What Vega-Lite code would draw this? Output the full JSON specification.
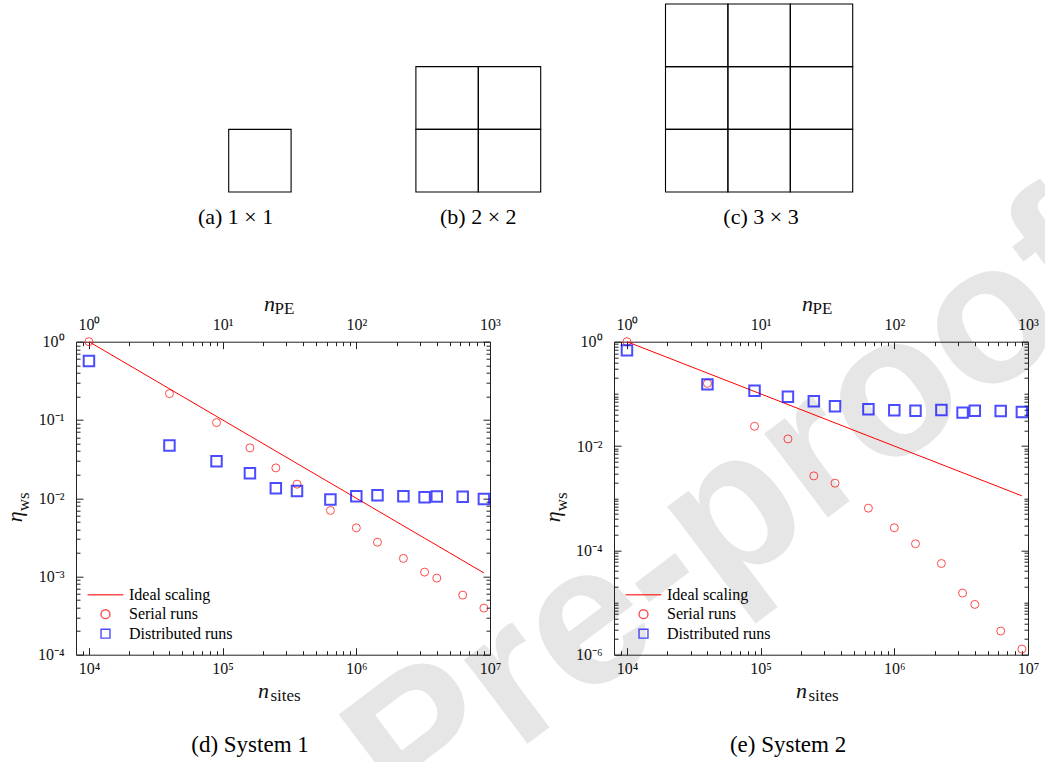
{
  "$schema": "https://vega.github.io/schema/vega-lite/v6.json",
  "padding": {"left": 3, "top": 3, "right": 0, "bottom": 0},
  "config": {"view": {"stroke": null}, "font": "Liberation Serif", "axis": {"grid": false}},
  "bounds": "flush",
  "spacing": 149.7,
  "resolve": {"scale": {"stroke": "independent", "shape": "independent"}},
  "datasets": {
    "cells": [
      {"x": 0, "x2": 1, "y": 0, "y2": 1},
      {"x": 3, "x2": 4, "y": 0, "y2": 1}, {"x": 4, "x2": 5, "y": 0, "y2": 1},
      {"x": 3, "x2": 4, "y": 1, "y2": 2}, {"x": 4, "x2": 5, "y": 1, "y2": 2},
      {"x": 7, "x2": 8, "y": 0, "y2": 1}, {"x": 8, "x2": 9, "y": 0, "y2": 1}, {"x": 9, "x2": 10, "y": 0, "y2": 1},
      {"x": 7, "x2": 8, "y": 1, "y2": 2}, {"x": 8, "x2": 9, "y": 1, "y2": 2}, {"x": 9, "x2": 10, "y": 1, "y2": 2},
      {"x": 7, "x2": 8, "y": 2, "y2": 3}, {"x": 8, "x2": 9, "y": 2, "y2": 3}, {"x": 9, "x2": 10, "y": 2, "y2": 3}
    ],
    "captions": [
      {"t": "(a) 1 × 1", "x": 0.11, "y": -0.4},
      {"t": "(b) 2 × 2", "x": 4.0, "y": -0.4},
      {"t": "(c) 3 × 3", "x": 8.53, "y": -0.4}
    ],
    "mark": [{"t": "Pre-proof", "x": 8.066, "y": -5.145}],
    "s1": [
      {"n": 10000, "s": "Ideal scaling", "eta": 1},
      {"n": 9000000, "s": "Ideal scaling", "eta": 0.00111},
      {"n": 10000, "s": "Serial runs", "eta": 1.0},
      {"n": 40000, "s": "Serial runs", "eta": 0.217},
      {"n": 90000, "s": "Serial runs", "eta": 0.0925},
      {"n": 160000, "s": "Serial runs", "eta": 0.044},
      {"n": 250000, "s": "Serial runs", "eta": 0.0244},
      {"n": 360000, "s": "Serial runs", "eta": 0.0151},
      {"n": 640000, "s": "Serial runs", "eta": 0.00697},
      {"n": 1000000, "s": "Serial runs", "eta": 0.00418},
      {"n": 1440000, "s": "Serial runs", "eta": 0.00274},
      {"n": 2250000, "s": "Serial runs", "eta": 0.0017},
      {"n": 3240000, "s": "Serial runs", "eta": 0.001135},
      {"n": 4000000, "s": "Serial runs", "eta": 0.000953},
      {"n": 6250000, "s": "Serial runs", "eta": 0.000578},
      {"n": 9000000, "s": "Serial runs", "eta": 0.000394},
      {"n": 10000, "s": "Distributed runs", "eta": 0.567},
      {"n": 40000, "s": "Distributed runs", "eta": 0.047},
      {"n": 90000, "s": "Distributed runs", "eta": 0.0297},
      {"n": 160000, "s": "Distributed runs", "eta": 0.0208},
      {"n": 250000, "s": "Distributed runs", "eta": 0.0134},
      {"n": 360000, "s": "Distributed runs", "eta": 0.0124},
      {"n": 640000, "s": "Distributed runs", "eta": 0.00962},
      {"n": 1000000, "s": "Distributed runs", "eta": 0.0106},
      {"n": 1440000, "s": "Distributed runs", "eta": 0.0109},
      {"n": 2250000, "s": "Distributed runs", "eta": 0.0106},
      {"n": 3240000, "s": "Distributed runs", "eta": 0.0103},
      {"n": 4000000, "s": "Distributed runs", "eta": 0.0105},
      {"n": 6250000, "s": "Distributed runs", "eta": 0.0104},
      {"n": 9000000, "s": "Distributed runs", "eta": 0.0098}
    ],
    "s2": [
      {"n": 10000, "s": "Ideal scaling", "eta": 1},
      {"n": 9000000, "s": "Ideal scaling", "eta": 0.00111},
      {"n": 10000, "s": "Serial runs", "eta": 1.0},
      {"n": 40000, "s": "Serial runs", "eta": 0.159},
      {"n": 90000, "s": "Serial runs", "eta": 0.0239},
      {"n": 160000, "s": "Serial runs", "eta": 0.01367},
      {"n": 250000, "s": "Serial runs", "eta": 0.00268},
      {"n": 360000, "s": "Serial runs", "eta": 0.00194},
      {"n": 640000, "s": "Serial runs", "eta": 0.000644},
      {"n": 1000000, "s": "Serial runs", "eta": 0.000271},
      {"n": 1440000, "s": "Serial runs", "eta": 0.000134},
      {"n": 2250000, "s": "Serial runs", "eta": 0.000056},
      {"n": 3240000, "s": "Serial runs", "eta": 0.0000152},
      {"n": 4000000, "s": "Serial runs", "eta": 0.0000092},
      {"n": 6250000, "s": "Serial runs", "eta": 0.00000284},
      {"n": 9000000, "s": "Serial runs", "eta": 0.00000128},
      {"n": 10000, "s": "Distributed runs", "eta": 0.682},
      {"n": 40000, "s": "Distributed runs", "eta": 0.152},
      {"n": 90000, "s": "Distributed runs", "eta": 0.115},
      {"n": 160000, "s": "Distributed runs", "eta": 0.0885},
      {"n": 250000, "s": "Distributed runs", "eta": 0.072},
      {"n": 360000, "s": "Distributed runs", "eta": 0.0578},
      {"n": 640000, "s": "Distributed runs", "eta": 0.0506},
      {"n": 1000000, "s": "Distributed runs", "eta": 0.0484},
      {"n": 1440000, "s": "Distributed runs", "eta": 0.0477},
      {"n": 2250000, "s": "Distributed runs", "eta": 0.0492},
      {"n": 3240000, "s": "Distributed runs", "eta": 0.0437},
      {"n": 4000000, "s": "Distributed runs", "eta": 0.0477},
      {"n": 6250000, "s": "Distributed runs", "eta": 0.047},
      {"n": 9000000, "s": "Distributed runs", "eta": 0.045}
    ]
  },
  "vconcat": [
    {
      "width": 969.7,
      "height": 188,
      "layer": [
        {
          "data": {"name": "mark"},
          "mark": {"type": "text", "font": "Liberation Sans", "fontSize": 199, "fontWeight": "bold", "angle": 323, "align": "center", "baseline": "middle", "color": "#e6e6e6"},
          "encoding": {
            "x": {"field": "x", "type": "quantitative", "scale": {"domain": [-2.4471, 13.093], "nice": false, "zero": false}, "axis": null},
            "y": {"field": "y", "type": "quantitative", "scale": {"domain": [0, 3], "nice": false, "zero": false}, "axis": null},
            "text": {"field": "t"}
          }
        },
        {
          "data": {"name": "cells"},
          "mark": {"type": "rect", "fill": "transparent", "stroke": "#000", "strokeWidth": 1.1},
          "encoding": {
            "x": {"field": "x", "type": "quantitative", "axis": null},
            "x2": {"field": "x2"},
            "y": {"field": "y", "type": "quantitative", "axis": null},
            "y2": {"field": "y2"}
          }
        },
        {
          "data": {"name": "captions"},
          "mark": {"type": "text", "font": "Liberation Serif", "fontSize": 22, "align": "center", "baseline": "middle", "color": "#000"},
          "encoding": {
            "x": {"field": "x", "type": "quantitative", "axis": null},
            "y": {"field": "y", "type": "quantitative", "axis": null},
            "text": {"field": "t"}
          }
        }
      ]
    },
    {
      "bounds": "flush",
      "spacing": 124,
      "resolve": {"scale": {"stroke": "independent", "shape": "independent"}},
      "hconcat": [
        {
          "width": 414, "height": 313,
          "title": {"text": "(d) System 1", "orient": "bottom", "anchor": "middle", "font": "Liberation Serif", "fontSize": 23, "fontWeight": "normal", "color": "#000", "offset": 30, "dx": -33},
          "data": {"name": "s1"},
          "resolve": {"axis": {"x": "independent", "y": "independent"}},
          "layer": [
            {
              "transform": [{"filter": "datum.s === 'Ideal scaling'"}],
              "mark": {"type": "line", "strokeWidth": 1},
              "encoding": {
                "x": {"field": "n", "type": "quantitative", "scale": {"type": "log", "domain": [8000, 10000000], "nice": false},
                  "axis": {"orient": "bottom", "values": [10000, 100000, 1000000, 10000000], "labelExpr": "['10⁴','10⁵','10⁶','10⁷'][round(log(datum.value)/LN10)-4]", "ticks": false, "domain": true, "domainColor": "#222", "domainWidth": 1, "labelFont": "Liberation Serif", "labelFontSize": 16, "labelColor": "#111", "labelPadding": 6, "labelBaseline": "top", "labelOverlap": false, "labelFlush": false, "title": "n", "titleFont": "Liberation Serif", "titleFontSize": 22, "titleFontStyle": "italic", "titleFontWeight": "normal", "titleColor": "#111", "titleX": 181.5, "titleY": 43, "titleAlign": "left", "titleBaseline": "alphabetic", "titleAngle": 0}},
                "y": {"field": "eta", "type": "quantitative", "scale": {"type": "log", "domain": [0.0001, 1], "nice": false},
                  "axis": {"orient": "left", "values": [0.0001, 0.001, 0.01, 0.1, 1], "labelExpr": "['10⁻⁴','10⁻³','10⁻²','10⁻¹','10⁰'][round(log(datum.value)/LN10)+4]", "ticks": false, "domain": true, "domainColor": "#222", "domainWidth": 1, "labelFont": "Liberation Serif", "labelFontSize": 16, "labelColor": "#111", "labelPadding": 12, "labelBaseline": "middle", "labelAlign": "right", "labelOverlap": false, "labelFlush": false, "title": "η", "titleFont": "Liberation Serif", "titleFontSize": 22, "titleFontStyle": "italic", "titleFontWeight": "normal", "titleColor": "#111", "titleX": -55, "titleY": 180, "titleAlign": "left", "titleBaseline": "alphabetic", "titleAngle": 270}},
                "stroke": {"field": "s", "type": "nominal", "scale": {"domain": ["Ideal scaling", "Serial runs", "Distributed runs"], "range": ["#ff0000", "#ff0000", "#0000ff"]},
                  "legend": {"title": null, "orient": "none", "legendX": 21.5, "legendY": 245, "labelFont": "Liberation Serif", "labelFontSize": 16, "labelColor": "#000", "symbolSize": 80, "symbolStrokeWidth": 1.4, "labelOffset": 15.5, "rowPadding": 3.5, "padding": 0, "symbolFillColor": "transparent"}}
              }
            },
            {
              "transform": [{"filter": "datum.s === 'Serial runs'"}],
              "mark": {"type": "point", "filled": false, "size": 64, "strokeWidth": 1},
              "encoding": {
                "x": {"field": "n", "type": "quantitative", "scale": {"type": "log", "domain": [8000, 10000000], "nice": false},
                  "axis": {"orient": "bottom", "values": [10000, 100000, 1000000, 10000000], "labels": false, "domain": false, "ticks": true, "tickSize": -7, "tickColor": "#222", "tickWidth": 1, "title": null}},
                "y": {"field": "eta", "type": "quantitative", "scale": {"type": "log", "domain": [0.0001, 1], "nice": false},
                  "axis": {"orient": "left", "values": [0.0001, 0.001, 0.01, 0.1, 1], "labels": false, "domain": false, "ticks": true, "tickSize": -7, "tickColor": "#222", "tickWidth": 1, "title": null}},
                "stroke": {"field": "s", "type": "nominal", "scale": {"domain": ["Ideal scaling", "Serial runs", "Distributed runs"], "range": ["#ff0000", "#ff0000", "#0000ff"]},
                  "legend": {"title": null, "orient": "none", "legendX": 21.5, "legendY": 245, "labelFont": "Liberation Serif", "labelFontSize": 16, "labelColor": "#000", "symbolSize": 80, "symbolStrokeWidth": 1.4, "labelOffset": 15.5, "rowPadding": 3.5, "padding": 0, "symbolFillColor": "transparent"}},
                "shape": {"field": "s", "type": "nominal", "scale": {"domain": ["Ideal scaling", "Serial runs", "Distributed runs"], "range": ["M-4,0L4,0", "circle", "square"]},
                  "legend": {"title": null, "orient": "none", "legendX": 21.5, "legendY": 245, "labelFont": "Liberation Serif", "labelFontSize": 16, "labelColor": "#000", "symbolSize": 80, "symbolStrokeWidth": 1.4, "labelOffset": 15.5, "rowPadding": 3.5, "padding": 0, "symbolFillColor": "transparent"}}
              }
            },
            {
              "transform": [{"filter": "datum.s === 'Distributed runs'"}],
              "mark": {"type": "point", "filled": false, "size": 110, "strokeWidth": 2},
              "encoding": {
                "x": {"field": "n", "type": "quantitative", "scale": {"type": "log", "domain": [8000, 10000000], "nice": false},
                  "axis": {"orient": "bottom", "values": [9000, 20000, 30000, 40000, 50000, 60000, 70000, 80000, 90000, 200000, 300000, 400000, 500000, 600000, 700000, 800000, 900000, 2000000, 3000000, 4000000, 5000000, 6000000, 7000000, 8000000, 9000000], "labels": false, "domain": false, "ticks": true, "tickSize": -4, "tickColor": "#222", "tickWidth": 1, "title": null}},
                "y": {"field": "eta", "type": "quantitative", "scale": {"type": "log", "domain": [0.0001, 1], "nice": false},
                  "axis": {"orient": "left", "values": [0.0002, 0.0003, 0.0004, 0.0005, 0.0006, 0.0007, 0.0008, 0.0009, 0.002, 0.003, 0.004, 0.005, 0.006, 0.007, 0.008, 0.009, 0.02, 0.03, 0.04, 0.05, 0.06, 0.07, 0.08, 0.09, 0.2, 0.3, 0.4, 0.5, 0.6, 0.7, 0.8, 0.9], "labels": false, "domain": false, "ticks": true, "tickSize": -4, "tickColor": "#222", "tickWidth": 1, "title": null}},
                "stroke": {"field": "s", "type": "nominal", "scale": {"domain": ["Ideal scaling", "Serial runs", "Distributed runs"], "range": ["#ff0000", "#ff0000", "#0000ff"]}},
                "shape": {"field": "s", "type": "nominal", "scale": {"domain": ["Ideal scaling", "Serial runs", "Distributed runs"], "range": ["M-4,0L4,0", "circle", "square"]}}
              }
            },
            {
              "transform": [{"filter": "datum.s === 'Ideal scaling'"}],
              "mark": {"type": "point", "opacity": 0},
              "encoding": {
                "x": {"field": "n", "type": "quantitative", "scale": {"type": "log", "domain": [8000, 10000000], "nice": false},
                  "axis": {"orient": "bottom", "labels": false, "ticks": false, "domain": false, "title": "sites", "titleFont": "Liberation Serif", "titleFontSize": 17, "titleFontWeight": "normal", "titleColor": "#111", "titleX": 194, "titleY": 46, "titleAlign": "left", "titleBaseline": "alphabetic", "titleAngle": 0}},
                "y": {"field": "eta", "type": "quantitative", "scale": {"type": "log", "domain": [0.0001, 1], "nice": false},
                  "axis": {"orient": "left", "labels": false, "ticks": false, "domain": false, "title": "ws", "titleFont": "Liberation Serif", "titleFontSize": 17, "titleFontWeight": "normal", "titleColor": "#111", "titleX": -48, "titleY": 169, "titleAlign": "left", "titleBaseline": "alphabetic", "titleAngle": 270}}
              }
            },
            {
              "transform": [{"filter": "datum.s === 'Ideal scaling'"}],
              "mark": {"type": "point", "opacity": 0},
              "encoding": {
                "x": {"field": "n", "type": "quantitative", "scale": {"type": "log", "domain": [8000, 10000000], "nice": false},
                  "axis": {"orient": "top", "values": [10000, 100000, 1000000, 10000000], "labelExpr": "['10⁰','10¹','10²','10³'][round(log(datum.value)/LN10)-4]", "ticks": false, "domain": true, "domainColor": "#222", "domainWidth": 1, "labelFont": "Liberation Serif", "labelFontSize": 16, "labelColor": "#111", "labelPadding": 12.7, "labelBaseline": "alphabetic", "labelOverlap": false, "labelFlush": false, "title": "n", "titleFont": "Liberation Serif", "titleFontSize": 22, "titleFontStyle": "italic", "titleFontWeight": "normal", "titleColor": "#111", "titleX": 187.5, "titleY": -31, "titleAlign": "left", "titleBaseline": "alphabetic", "titleAngle": 0}},
                "y": {"field": "eta", "type": "quantitative", "scale": {"type": "log", "domain": [0.0001, 1], "nice": false},
                  "axis": {"orient": "right", "values": [0.0001, 0.001, 0.01, 0.1, 1], "labels": false, "domain": true, "domainColor": "#222", "domainWidth": 1, "ticks": true, "tickSize": -7, "tickColor": "#222", "tickWidth": 1, "title": null}}
              }
            },
            {
              "transform": [{"filter": "datum.s === 'Ideal scaling'"}],
              "mark": {"type": "point", "opacity": 0},
              "encoding": {
                "x": {"field": "n", "type": "quantitative", "scale": {"type": "log", "domain": [8000, 10000000], "nice": false},
                  "axis": {"orient": "top", "values": [10000, 100000, 1000000, 10000000], "labels": false, "domain": false, "ticks": true, "tickSize": -7, "tickColor": "#222", "tickWidth": 1, "title": null}},
                "y": {"field": "eta", "type": "quantitative", "scale": {"type": "log", "domain": [0.0001, 1], "nice": false},
                  "axis": {"orient": "right", "values": [0.0002, 0.0003, 0.0004, 0.0005, 0.0006, 0.0007, 0.0008, 0.0009, 0.002, 0.003, 0.004, 0.005, 0.006, 0.007, 0.008, 0.009, 0.02, 0.03, 0.04, 0.05, 0.06, 0.07, 0.08, 0.09, 0.2, 0.3, 0.4, 0.5, 0.6, 0.7, 0.8, 0.9], "labels": false, "domain": false, "ticks": true, "tickSize": -4, "tickColor": "#222", "tickWidth": 1, "title": null}}
              }
            },
            {
              "transform": [{"filter": "datum.s === 'Ideal scaling'"}],
              "mark": {"type": "point", "opacity": 0},
              "encoding": {
                "x": {"field": "n", "type": "quantitative", "scale": {"type": "log", "domain": [8000, 10000000], "nice": false},
                  "axis": {"orient": "top", "values": [9000, 20000, 30000, 40000, 50000, 60000, 70000, 80000, 90000, 200000, 300000, 400000, 500000, 600000, 700000, 800000, 900000, 2000000, 3000000, 4000000, 5000000, 6000000, 7000000, 8000000, 9000000], "labels": false, "domain": false, "ticks": true, "tickSize": -4, "tickColor": "#222", "tickWidth": 1, "title": null}},
                "y": {"field": "eta", "type": "quantitative", "scale": {"type": "log", "domain": [0.0001, 1], "nice": false}, "axis": null}
              }
            },
            {
              "transform": [{"filter": "datum.s === 'Ideal scaling'"}],
              "mark": {"type": "point", "opacity": 0},
              "encoding": {
                "x": {"field": "n", "type": "quantitative", "scale": {"type": "log", "domain": [8000, 10000000], "nice": false},
                  "axis": {"orient": "top", "labels": false, "ticks": false, "domain": false, "title": "PE", "titleFont": "Liberation Serif", "titleFontSize": 17, "titleFontWeight": "normal", "titleColor": "#111", "titleX": 198, "titleY": -28, "titleAlign": "left", "titleBaseline": "alphabetic", "titleAngle": 0}},
                "y": {"field": "eta", "type": "quantitative", "scale": {"type": "log", "domain": [0.0001, 1], "nice": false}, "axis": null}
              }
            }
          ]
        },
        {
          "width": 414, "height": 313,
          "title": {"text": "(e) System 2", "orient": "bottom", "anchor": "middle", "font": "Liberation Serif", "fontSize": 23, "fontWeight": "normal", "color": "#000", "offset": 30, "dx": -33},
          "data": {"name": "s2"},
          "resolve": {"axis": {"x": "independent", "y": "independent"}},
          "layer": [
            {
              "transform": [{"filter": "datum.s === 'Ideal scaling'"}],
              "mark": {"type": "line", "strokeWidth": 1},
              "encoding": {
                "x": {"field": "n", "type": "quantitative", "scale": {"type": "log", "domain": [8000, 10000000], "nice": false},
                  "axis": {"orient": "bottom", "values": [10000, 100000, 1000000, 10000000], "labelExpr": "['10⁴','10⁵','10⁶','10⁷'][round(log(datum.value)/LN10)-4]", "ticks": false, "domain": true, "domainColor": "#222", "domainWidth": 1, "labelFont": "Liberation Serif", "labelFontSize": 16, "labelColor": "#111", "labelPadding": 6, "labelBaseline": "top", "labelOverlap": false, "labelFlush": false, "title": "n", "titleFont": "Liberation Serif", "titleFontSize": 22, "titleFontStyle": "italic", "titleFontWeight": "normal", "titleColor": "#111", "titleX": 181.5, "titleY": 43, "titleAlign": "left", "titleBaseline": "alphabetic", "titleAngle": 0}},
                "y": {"field": "eta", "type": "quantitative", "scale": {"type": "log", "domain": [0.000001, 1], "nice": false},
                  "axis": {"orient": "left", "values": [0.000001, 0.0001, 0.01, 1], "labelExpr": "['10⁻⁶','10⁻⁵','10⁻⁴','10⁻³','10⁻²','10⁻¹','10⁰'][round(log(datum.value)/LN10)+6]", "ticks": false, "domain": true, "domainColor": "#222", "domainWidth": 1, "labelFont": "Liberation Serif", "labelFontSize": 16, "labelColor": "#111", "labelPadding": 12, "labelBaseline": "middle", "labelAlign": "right", "labelOverlap": false, "labelFlush": false, "title": "η", "titleFont": "Liberation Serif", "titleFontSize": 22, "titleFontStyle": "italic", "titleFontWeight": "normal", "titleColor": "#111", "titleX": -55, "titleY": 180, "titleAlign": "left", "titleBaseline": "alphabetic", "titleAngle": 270}},
                "stroke": {"field": "s", "type": "nominal", "scale": {"domain": ["Ideal scaling", "Serial runs", "Distributed runs"], "range": ["#ff0000", "#ff0000", "#0000ff"]},
                  "legend": {"title": null, "orient": "none", "legendX": 21.5, "legendY": 245, "labelFont": "Liberation Serif", "labelFontSize": 16, "labelColor": "#000", "symbolSize": 80, "symbolStrokeWidth": 1.4, "labelOffset": 15.5, "rowPadding": 3.5, "padding": 0, "symbolFillColor": "transparent"}}
              }
            },
            {
              "transform": [{"filter": "datum.s === 'Serial runs'"}],
              "mark": {"type": "point", "filled": false, "size": 64, "strokeWidth": 1},
              "encoding": {
                "x": {"field": "n", "type": "quantitative", "scale": {"type": "log", "domain": [8000, 10000000], "nice": false},
                  "axis": {"orient": "bottom", "values": [10000, 100000, 1000000, 10000000], "labels": false, "domain": false, "ticks": true, "tickSize": -7, "tickColor": "#222", "tickWidth": 1, "title": null}},
                "y": {"field": "eta", "type": "quantitative", "scale": {"type": "log", "domain": [0.000001, 1], "nice": false},
                  "axis": {"orient": "left", "values": [0.000001, 0.0001, 0.01, 1], "labels": false, "domain": false, "ticks": true, "tickSize": -7, "tickColor": "#222", "tickWidth": 1, "title": null}},
                "stroke": {"field": "s", "type": "nominal", "scale": {"domain": ["Ideal scaling", "Serial runs", "Distributed runs"], "range": ["#ff0000", "#ff0000", "#0000ff"]},
                  "legend": {"title": null, "orient": "none", "legendX": 21.5, "legendY": 245, "labelFont": "Liberation Serif", "labelFontSize": 16, "labelColor": "#000", "symbolSize": 80, "symbolStrokeWidth": 1.4, "labelOffset": 15.5, "rowPadding": 3.5, "padding": 0, "symbolFillColor": "transparent"}},
                "shape": {"field": "s", "type": "nominal", "scale": {"domain": ["Ideal scaling", "Serial runs", "Distributed runs"], "range": ["M-4,0L4,0", "circle", "square"]},
                  "legend": {"title": null, "orient": "none", "legendX": 21.5, "legendY": 245, "labelFont": "Liberation Serif", "labelFontSize": 16, "labelColor": "#000", "symbolSize": 80, "symbolStrokeWidth": 1.4, "labelOffset": 15.5, "rowPadding": 3.5, "padding": 0, "symbolFillColor": "transparent"}}
              }
            },
            {
              "transform": [{"filter": "datum.s === 'Distributed runs'"}],
              "mark": {"type": "point", "filled": false, "size": 110, "strokeWidth": 2},
              "encoding": {
                "x": {"field": "n", "type": "quantitative", "scale": {"type": "log", "domain": [8000, 10000000], "nice": false},
                  "axis": {"orient": "bottom", "values": [9000, 20000, 30000, 40000, 50000, 60000, 70000, 80000, 90000, 200000, 300000, 400000, 500000, 600000, 700000, 800000, 900000, 2000000, 3000000, 4000000, 5000000, 6000000, 7000000, 8000000, 9000000], "labels": false, "domain": false, "ticks": true, "tickSize": -4, "tickColor": "#222", "tickWidth": 1, "title": null}},
                "y": {"field": "eta", "type": "quantitative", "scale": {"type": "log", "domain": [0.000001, 1], "nice": false},
                  "axis": {"orient": "left", "values": [0.000002, 0.000003, 0.000004, 0.000005, 0.000006, 0.000007, 0.000008, 0.000009, 0.00001, 0.00002, 0.00003, 0.00004, 0.00005, 0.00006, 0.00007, 0.00008, 0.00009, 0.0002, 0.0003, 0.0004, 0.0005, 0.0006, 0.0007, 0.0008, 0.0009, 0.001, 0.002, 0.003, 0.004, 0.005, 0.006, 0.007, 0.008, 0.009, 0.02, 0.03, 0.04, 0.05, 0.06, 0.07, 0.08, 0.09, 0.1, 0.2, 0.3, 0.4, 0.5, 0.6, 0.7, 0.8, 0.9], "labels": false, "domain": false, "ticks": true, "tickSize": -4, "tickColor": "#222", "tickWidth": 1, "title": null}},
                "stroke": {"field": "s", "type": "nominal", "scale": {"domain": ["Ideal scaling", "Serial runs", "Distributed runs"], "range": ["#ff0000", "#ff0000", "#0000ff"]}},
                "shape": {"field": "s", "type": "nominal", "scale": {"domain": ["Ideal scaling", "Serial runs", "Distributed runs"], "range": ["M-4,0L4,0", "circle", "square"]}}
              }
            },
            {
              "transform": [{"filter": "datum.s === 'Ideal scaling'"}],
              "mark": {"type": "point", "opacity": 0},
              "encoding": {
                "x": {"field": "n", "type": "quantitative", "scale": {"type": "log", "domain": [8000, 10000000], "nice": false},
                  "axis": {"orient": "bottom", "labels": false, "ticks": false, "domain": false, "title": "sites", "titleFont": "Liberation Serif", "titleFontSize": 17, "titleFontWeight": "normal", "titleColor": "#111", "titleX": 194, "titleY": 46, "titleAlign": "left", "titleBaseline": "alphabetic", "titleAngle": 0}},
                "y": {"field": "eta", "type": "quantitative", "scale": {"type": "log", "domain": [0.000001, 1], "nice": false},
                  "axis": {"orient": "left", "labels": false, "ticks": false, "domain": false, "title": "ws", "titleFont": "Liberation Serif", "titleFontSize": 17, "titleFontWeight": "normal", "titleColor": "#111", "titleX": -48, "titleY": 169, "titleAlign": "left", "titleBaseline": "alphabetic", "titleAngle": 270}}
              }
            },
            {
              "transform": [{"filter": "datum.s === 'Ideal scaling'"}],
              "mark": {"type": "point", "opacity": 0},
              "encoding": {
                "x": {"field": "n", "type": "quantitative", "scale": {"type": "log", "domain": [8000, 10000000], "nice": false},
                  "axis": {"orient": "top", "values": [10000, 100000, 1000000, 10000000], "labelExpr": "['10⁰','10¹','10²','10³'][round(log(datum.value)/LN10)-4]", "ticks": false, "domain": true, "domainColor": "#222", "domainWidth": 1, "labelFont": "Liberation Serif", "labelFontSize": 16, "labelColor": "#111", "labelPadding": 12.7, "labelBaseline": "alphabetic", "labelOverlap": false, "labelFlush": false, "title": "n", "titleFont": "Liberation Serif", "titleFontSize": 22, "titleFontStyle": "italic", "titleFontWeight": "normal", "titleColor": "#111", "titleX": 187.5, "titleY": -31, "titleAlign": "left", "titleBaseline": "alphabetic", "titleAngle": 0}},
                "y": {"field": "eta", "type": "quantitative", "scale": {"type": "log", "domain": [0.000001, 1], "nice": false},
                  "axis": {"orient": "right", "values": [0.000001, 0.0001, 0.01, 1], "labels": false, "domain": true, "domainColor": "#222", "domainWidth": 1, "ticks": true, "tickSize": -7, "tickColor": "#222", "tickWidth": 1, "title": null}}
              }
            },
            {
              "transform": [{"filter": "datum.s === 'Ideal scaling'"}],
              "mark": {"type": "point", "opacity": 0},
              "encoding": {
                "x": {"field": "n", "type": "quantitative", "scale": {"type": "log", "domain": [8000, 10000000], "nice": false},
                  "axis": {"orient": "top", "values": [10000, 100000, 1000000, 10000000], "labels": false, "domain": false, "ticks": true, "tickSize": -7, "tickColor": "#222", "tickWidth": 1, "title": null}},
                "y": {"field": "eta", "type": "quantitative", "scale": {"type": "log", "domain": [0.000001, 1], "nice": false},
                  "axis": {"orient": "right", "values": [0.000002, 0.000003, 0.000004, 0.000005, 0.000006, 0.000007, 0.000008, 0.000009, 0.00001, 0.00002, 0.00003, 0.00004, 0.00005, 0.00006, 0.00007, 0.00008, 0.00009, 0.0002, 0.0003, 0.0004, 0.0005, 0.0006, 0.0007, 0.0008, 0.0009, 0.001, 0.002, 0.003, 0.004, 0.005, 0.006, 0.007, 0.008, 0.009, 0.02, 0.03, 0.04, 0.05, 0.06, 0.07, 0.08, 0.09, 0.1, 0.2, 0.3, 0.4, 0.5, 0.6, 0.7, 0.8, 0.9], "labels": false, "domain": false, "ticks": true, "tickSize": -4, "tickColor": "#222", "tickWidth": 1, "title": null}}
              }
            },
            {
              "transform": [{"filter": "datum.s === 'Ideal scaling'"}],
              "mark": {"type": "point", "opacity": 0},
              "encoding": {
                "x": {"field": "n", "type": "quantitative", "scale": {"type": "log", "domain": [8000, 10000000], "nice": false},
                  "axis": {"orient": "top", "values": [9000, 20000, 30000, 40000, 50000, 60000, 70000, 80000, 90000, 200000, 300000, 400000, 500000, 600000, 700000, 800000, 900000, 2000000, 3000000, 4000000, 5000000, 6000000, 7000000, 8000000, 9000000], "labels": false, "domain": false, "ticks": true, "tickSize": -4, "tickColor": "#222", "tickWidth": 1, "title": null}},
                "y": {"field": "eta", "type": "quantitative", "scale": {"type": "log", "domain": [0.000001, 1], "nice": false}, "axis": null}
              }
            },
            {
              "transform": [{"filter": "datum.s === 'Ideal scaling'"}],
              "mark": {"type": "point", "opacity": 0},
              "encoding": {
                "x": {"field": "n", "type": "quantitative", "scale": {"type": "log", "domain": [8000, 10000000], "nice": false},
                  "axis": {"orient": "top", "labels": false, "ticks": false, "domain": false, "title": "PE", "titleFont": "Liberation Serif", "titleFontSize": 17, "titleFontWeight": "normal", "titleColor": "#111", "titleX": 198, "titleY": -28, "titleAlign": "left", "titleBaseline": "alphabetic", "titleAngle": 0}},
                "y": {"field": "eta", "type": "quantitative", "scale": {"type": "log", "domain": [0.000001, 1], "nice": false}, "axis": null}
              }
            }
          ]
        }
      ]
    }
  ]
}
